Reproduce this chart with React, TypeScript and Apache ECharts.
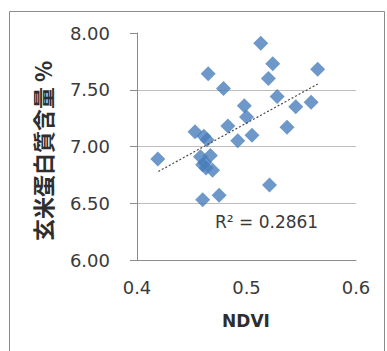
import React, { useEffect, useRef } from "react";
import * as echarts from "echarts";

// NDVI (x) vs brown-rice protein content % (y)
const ndvi = [
  0.419, 0.465, 0.479, 0.513, 0.524, 0.52, 0.565, 0.528, 0.545, 0.559,
  0.537, 0.498, 0.5, 0.483, 0.505, 0.492, 0.453, 0.461, 0.464, 0.46,
  0.475, 0.521, 0.458, 0.467, 0.462, 0.469, 0.463, 0.46,
];
const protein = [
  6.89, 7.64, 7.51, 7.91, 7.73, 7.6, 7.68, 7.44, 7.35, 7.39,
  7.17, 7.36, 7.26, 7.18, 7.1, 7.05, 7.13, 7.09, 7.06, 6.53,
  6.57, 6.66, 6.91, 6.92, 6.86, 6.79, 6.81, 6.84,
];
// Linear trendline endpoints
const trendX = [0.4195, 0.565];
const trendY = [6.78, 7.55];
const xTicks = [0.4, 0.5, 0.6];
const yTicks = [6.0, 6.5, 7.0, 7.5, 8.0];
const r2Label = "R² = 0.2861";
const xName = "NDVI";
const yName = "玄米蛋白質含量 %";

export default function App() {
  const ref = useRef<HTMLDivElement>(null);
  useEffect(() => {
    document.body.style.margin = "0";
    if (!ref.current) return;
    const chart = echarts.init(ref.current, null, { renderer: "svg" });
    const font = "'DejaVu Sans', Verdana, sans-serif";
    chart.setOption({
      animation: false,
      backgroundColor: "#ffffff",
      grid: { left: 137, right: 31, top: 33, bottom: 91 },
      xAxis: {
        type: "value",
        min: xTicks[0],
        max: xTicks[xTicks.length - 1],
        interval: 0.1,
        axisLine: { show: true, lineStyle: { color: "#8c8c8c", width: 1 } },
        axisTick: { show: false },
        splitLine: { show: false },
        axisLabel: {
          margin: 18,
          fontSize: 18,
          fontFamily: font,
          color: "#3a3a3a",
          formatter: (v: number) => v.toFixed(1),
        },
      },
      yAxis: {
        type: "value",
        min: yTicks[0],
        max: yTicks[yTicks.length - 1],
        interval: 0.5,
        axisLine: { show: true, lineStyle: { color: "#8c8c8c", width: 1 } },
        axisTick: { show: true, length: 7, lineStyle: { color: "#8c8c8c" } },
        splitLine: {
          show: true,
          showMaxLine: false,
          lineStyle: { color: "#bdbdbd", width: 1 },
        },
        axisLabel: {
          margin: 27,
          fontSize: 18,
          fontFamily: font,
          color: "#3a3a3a",
          formatter: (v: number) => v.toFixed(2),
        },
      },
      series: [
        {
          type: "scatter",
          data: ndvi.map((x, i) => [x, protein[i]]),
          symbol: "diamond",
          symbolSize: 15,
          itemStyle: { color: "#4a7ebb" },
          z: 3,
        },
        {
          type: "line",
          data: trendX.map((x, i) => [x, trendY[i]]),
          symbol: "none",
          lineStyle: { color: "#4a4a4a", width: 1.2, type: [2, 2] },
          z: 4,
        },
      ],
      graphic: [
        {
          type: "rect",
          shape: { x: 9.5, y: 11.5, width: 375, height: 360 },
          style: { fill: "none", stroke: "#8c8c8c", lineWidth: 1 },
          silent: true,
        },
        {
          type: "text",
          x: 42,
          y: 151,
          rotation: Math.PI / 2,
          style: {
            text: yName,
            font: "bold 22px 'Noto Sans CJK JP', sans-serif",
            fill: "#2e2e2e",
            align: "center",
            verticalAlign: "middle",
          },
        },
        {
          type: "text",
          x: 246,
          y: 321,
          style: {
            text: xName,
            font: `bold 17px ${font}`,
            fill: "#2e2e2e",
            align: "center",
            verticalAlign: "middle",
          },
        },
        {
          type: "text",
          x: 215,
          y: 222,
          style: {
            text: r2Label,
            font: `17px ${font}`,
            fill: "#3a3a3a",
            align: "left",
            verticalAlign: "middle",
          },
        },
      ],
    });
    return () => chart.dispose();
  }, []);
  return <div ref={ref} style={{ width: 387, height: 351 }} />;
}
